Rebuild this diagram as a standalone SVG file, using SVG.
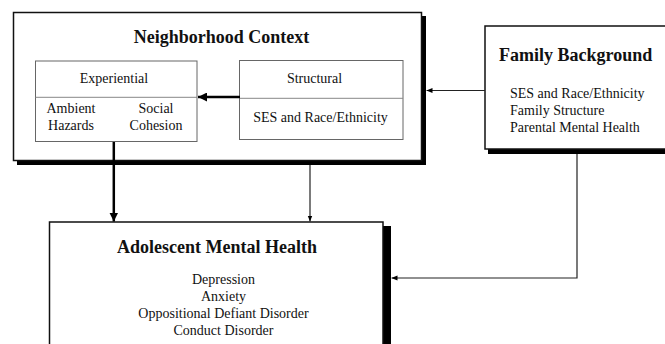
<svg xmlns="http://www.w3.org/2000/svg" width="665" height="344" viewBox="0 0 665 344">
  <defs>
    <style>
      text { font-family: "Liberation Serif", "Times New Roman", serif; fill: #111; }
      .title { font-size: 18px; font-weight: bold; }
      .item { font-size: 14px; }
      .mid { text-anchor: middle; }
      .outer { fill: #fff; stroke: #111; stroke-width: 1.5; }
      .shadow { fill: #000; }
      .inner { fill: #fff; stroke: #666; stroke-width: 1; }
      .divider { stroke: #888; stroke-width: 1; }
      .thick { fill: none; stroke: #000; stroke-width: 2.5; }
      .thin { fill: none; stroke: #222; stroke-width: 1.2; }
    </style>
    <marker id="headBig" viewBox="0 0 10 10" refX="10" refY="5" markerWidth="3.6" markerHeight="3.6" orient="auto" markerUnits="strokeWidth">
      <path d="M0,0 L10,5 L0,10 z" fill="#000"/>
    </marker>
    <marker id="headSmall" viewBox="0 0 10 10" refX="10" refY="5" markerWidth="5" markerHeight="5" orient="auto" markerUnits="strokeWidth">
      <path d="M0,1 L10,5 L0,9 z" fill="#000"/>
    </marker>
  </defs>

  <!-- Neighborhood context (outer frame with two inner panels) -->
  <g id="neighborhood">
    <rect class="shadow" x="17" y="16" width="409" height="149"/>
    <rect class="outer" x="13.5" y="12.5" width="408" height="148"/>
    <text class="title mid" x="221.5" y="43">Neighborhood Context</text>
  </g>

  <g id="experiential">
    <rect class="inner" x="35.5" y="61" width="161.5" height="80.5"/>
    <line class="divider" x1="35.5" y1="97.3" x2="197" y2="97.3"/>
    <text class="item mid" x="114" y="83">Experiential</text>
    <text class="item mid" x="71" y="112.7">Ambient</text>
    <text class="item mid" x="71" y="129.5">Hazards</text>
    <text class="item mid" x="156" y="112.7">Social</text>
    <text class="item mid" x="156" y="129.5">Cohesion</text>
  </g>

  <g id="structural">
    <rect class="inner" x="239.5" y="60.5" width="163.5" height="79"/>
    <line class="divider" x1="239.5" y1="98.3" x2="403" y2="98.3"/>
    <text class="item mid" x="314.5" y="83">Structural</text>
    <text class="item mid" x="320.5" y="121.7">SES and Race/Ethnicity</text>
  </g>

  <!-- Family background -->
  <g id="family">
    <rect class="shadow" x="488" y="30" width="190" height="124"/>
    <rect class="outer" x="485" y="26" width="190" height="123"/>
    <text class="title" x="499" y="61">Family Background</text>
    <text class="item" x="510" y="98.3">SES and Race/Ethnicity</text>
    <text class="item" x="510" y="115.2">Family Structure</text>
    <text class="item" x="510" y="132">Parental Mental Health</text>
  </g>

  <!-- Adolescent mental health -->
  <g id="adolescent">
    <rect class="shadow" x="383" y="226" width="8" height="130"/>
    <rect class="outer" x="49.5" y="222" width="333.5" height="130"/>
    <text class="title mid" x="217" y="253">Adolescent Mental Health</text>
    <text class="item mid" x="223.5" y="283.5">Depression</text>
    <text class="item mid" x="223.5" y="300.7">Anxiety</text>
    <text class="item mid" x="223.5" y="317.9">Oppositional Defiant Disorder</text>
    <text class="item mid" x="223.5" y="335.1">Conduct Disorder</text>
  </g>

  <!-- Connectors -->
  <g id="connectors">
    <line class="thick" x1="240" y1="97" x2="198" y2="97" marker-end="url(#headBig)"/>
    <line class="thick" x1="113.8" y1="142" x2="113.8" y2="221.5" marker-end="url(#headBig)"/>
    <line class="thin" x1="310" y1="165" x2="310" y2="221.5" marker-end="url(#headSmall)"/>
    <line class="thin" x1="485" y1="90.5" x2="426.5" y2="90.5" marker-end="url(#headSmall)"/>
    <polyline class="thin" points="577,154 577,278 391.5,278" marker-end="url(#headSmall)"/>
  </g>
</svg>
